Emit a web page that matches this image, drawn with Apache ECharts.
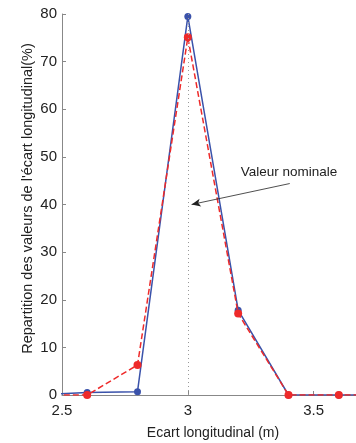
<!DOCTYPE html>
<html><head><meta charset="utf-8">
<script src="https://cdn.jsdelivr.net/npm/echarts@6/dist/echarts.min.js"></script>
<style>html,body{margin:0;padding:0;background:#fff;}#c{width:356px;height:443px;}</style>
</head><body><div id="c"></div>
<script>
const xValues = [2.4, 2.6, 2.8, 3.0, 3.2, 3.4, 3.6, 3.8];
const blueValues = [0, 0.5, 0.7, 79.5, 17.8, 0, 0, 0];
const redValues = [0, 0, 6.3, 75.1, 17.1, 0, 0, 0];
const nominalX = 3;
const annotationText = 'Valeur nominale';
const arrowFrom = [3.405, 44.4];
const arrowTo = [3.015, 40];
const textAt = [3.21, 46.8];
const xTitle = 'Ecart longitudinal (m)';
const yTitle = "Repartition des valeurs de l'écart longitudinal(%)";

const FONT = '"Liberation Sans", Arial, sans-serif';
const chart = echarts.init(document.getElementById('c'), null, {renderer: 'canvas'});
const pair = arr => xValues.map((x, i) => [x, arr[i]]);
chart.setOption({
  animation: false,
  backgroundColor: '#fff',
  grid: {left: 62, top: 14, height: 381, width: 302, containLabel: false, outerBoundsMode: 'none'},
  xAxis: {
    type: 'value', min: 2.5, max: 3.7, interval: 0.5,
    name: xTitle, nameLocation: 'middle', nameGap: 31, nameMoveOverlap: false,
    nameTextStyle: {fontFamily: FONT, fontSize: 14, color: '#222'},
    axisLine: {show: true, lineStyle: {color: '#888', width: 1}},
    axisTick: {show: true, inside: true, length: 4, lineStyle: {color: '#888'}},
    axisLabel: {fontFamily: FONT, fontSize: 15, color: '#222', margin: 8,
      formatter: v => (Math.abs(v * 2 - Math.round(v * 2)) < 1e-6 ? String(v) : '')},
    splitLine: {show: false}
  },
  yAxis: {
    type: 'value', min: 0, max: 80, interval: 10,
    name: yTitle, nameLocation: 'middle', nameGap: 27, nameMoveOverlap: false,
    nameTextStyle: {fontFamily: FONT, fontSize: 14.5, color: '#222', padding: [0, 0, 0, 12]},
    axisLine: {show: true, lineStyle: {color: '#888', width: 1}},
    axisTick: {show: true, inside: true, length: 4, lineStyle: {color: '#888'}},
    axisLabel: {fontFamily: FONT, fontSize: 15, color: '#222', margin: 5},
    splitLine: {show: false}
  },
  series: [
    {
      type: 'line', data: pair(blueValues), z: 2,
      symbol: 'circle', symbolSize: 7,
      lineStyle: {color: '#3a52aa', width: 1.5},
      itemStyle: {color: '#3a52aa'},
      markLine: {
        silent: true, symbol: 'none', label: {show: false},
        lineStyle: {color: '#999', type: [1, 3], width: 1},
        data: [{xAxis: nominalX}]
      }
    },
    {
      type: 'line', data: pair(redValues), z: 3,
      symbol: 'circle', symbolSize: 8,
      lineStyle: {color: '#ee2a2a', width: 1.5, type: [6, 3]},
      itemStyle: {color: '#ee2a2a'},
      markLine: {
        silent: true, symbol: ['none', 'arrow'], symbolSize: [6, 9],
        label: {show: false},
        lineStyle: {color: '#222', type: 'solid', width: 0.8},
        data: [[{coord: arrowFrom}, {coord: arrowTo}]]
      },
      markPoint: {
        silent: true, symbol: 'circle', symbolSize: 0,
        label: {show: true, position: 'right', distance: 0, formatter: annotationText,
          fontFamily: FONT, fontSize: 13.5, color: '#222'},
        data: [{coord: textAt}]
      }
    }
  ]
});
</script></body></html>
